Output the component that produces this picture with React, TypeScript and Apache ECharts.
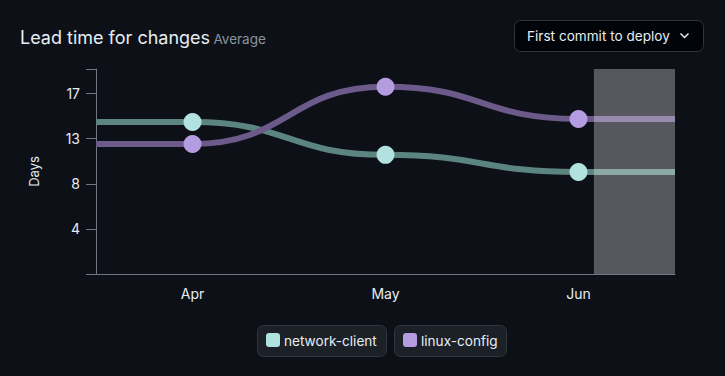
import React, { useEffect, useRef } from "react";
import * as echarts from "echarts";

// Monthly averages, in days
const months = ["Apr", "May", "Jun"];
const networkClient = [14.6, 11.45, 9.8];
const linuxConfig = [12.5, 18.0, 14.9];
const seriesNames = ["network-client", "linux-config"];

// Axis range and the still-open period at the end of the timeline
const yMax = 19.7;
const yInterval = 13 / 3;
const openPeriodStart = 2.08;

const FONT = "Inter, 'Noto Sans', sans-serif";
const BG = "#0d1117";
const TEXT = "#e6edf3";
const MUTED = "#8b949e";
const AXIS = "#6e7681";

const palette = [
  { dot: "#b2e2df", line: "#5c8581" },
  { dot: "#b49ce0", line: "#6b5a8a" },
];

// Horizontal-tangent cubic curve through each point, extended flat to the grid edges
function bumpSeries(name: string, values: number[], color: { dot: string; line: string }) {
  return {
    name,
    type: "custom",
    xAxisIndex: 1,
    z: 2,
    data: values.map((v, i) => [i, v]),
    encode: { x: 0, y: 1 },
    renderItem: (params: any, api: any) => {
      if (params.dataIndex !== 0) return null;
      const cs = params.coordSys;
      const pts = values.map((v, i) => api.coord([i, v]));
      let d = `M${cs.x},${pts[0][1]} L${pts[0][0]},${pts[0][1]}`;
      for (let i = 1; i < pts.length; i++) {
        const [x0, y0] = pts[i - 1];
        const [x1, y1] = pts[i];
        const mx = (x0 + x1) / 2;
        d += ` C${mx},${y0} ${mx},${y1} ${x1},${y1}`;
      }
      const last = pts[pts.length - 1];
      d += ` L${cs.x + cs.width},${last[1]}`;
      return {
        type: "path",
        shape: { pathData: d },
        style: { stroke: color.line, lineWidth: 6, fill: "none" },
      };
    },
  };
}

function dotSeries(name: string, values: number[], color: { dot: string }, withShade: boolean) {
  const s: any = {
    name,
    type: "scatter",
    xAxisIndex: 1,
    z: 3,
    symbolSize: 18,
    itemStyle: { color: color.dot, opacity: 1 },
    data: values.map((v, i) => [i, v]),
  };
  if (withShade) {
    s.markArea = {
      silent: true,
      z: 10,
      itemStyle: { color: "rgba(255,255,255,0.3)" },
      data: [[{ xAxis: openPeriodStart }, { xAxis: months.length - 0.5 }]],
    };
  }
  return s;
}

function legendChip(x: number, width: number, label: string, color: string) {
  return {
    type: "group",
    children: [
      {
        type: "rect",
        shape: { x: x + 0.5, y: 325.5, width, height: 31, r: 6 },
        style: { fill: "#1c2128", stroke: "#30363d", lineWidth: 1 },
      },
      {
        type: "rect",
        shape: { x: x + 9, y: 333, width: 14, height: 14, r: 3 },
        style: { fill: color },
      },
      {
        type: "text",
        x: x + 27,
        y: 341,
        style: {
          text: label,
          fill: TEXT,
          font: `13.6px ${FONT}`,
          textVerticalAlign: "middle",
        },
      },
    ],
  };
}

export default function App() {
  const ref = useRef<HTMLDivElement>(null);

  useEffect(() => {
    if (!ref.current) return;
    const chart = echarts.init(ref.current, null, { renderer: "svg" });
    chart.setOption({
      animation: false,
      backgroundColor: BG,
      textStyle: { fontFamily: FONT },
      grid: { left: 96, right: 50, top: 69, bottom: 102, containLabel: false },
      xAxis: [
        {
          type: "category",
          data: months,
          boundaryGap: true,
          axisLine: { onZero: false, lineStyle: { color: AXIS, width: 1 } },
          axisTick: { alignWithLabel: true, length: 9, lineStyle: { color: AXIS } },
          axisLabel: { color: TEXT, fontSize: 14, margin: 12, fontFamily: FONT },
          splitLine: { show: false },
        },
        {
          type: "value",
          show: false,
          min: -0.5,
          max: months.length - 0.5,
          splitLine: { show: false },
        },
      ],
      yAxis: {
        type: "value",
        min: 0,
        max: yMax,
        interval: yInterval,
        name: "Days",
        nameLocation: "middle",
        nameGap: 56,
        nameRotate: 90,
        nameTextStyle: { color: TEXT, fontSize: 13, fontFamily: FONT },
        axisLine: { show: true, onZero: false, lineStyle: { color: AXIS, width: 1 } },
        axisTick: { show: true, length: 10, lineStyle: { color: AXIS } },
        axisLabel: {
          color: TEXT,
          fontSize: 14,
          margin: 16,
          fontFamily: FONT,
          formatter: (v: number) => (v <= 0 || v > 18 ? "" : String(Math.floor(v + 1e-6))),
        },
        splitLine: { show: false },
      },
      series: [
        bumpSeries(seriesNames[0], networkClient, palette[0]),
        bumpSeries(seriesNames[1], linuxConfig, palette[1]),
        dotSeries(seriesNames[0], networkClient, palette[0], true),
        dotSeries(seriesNames[1], linuxConfig, palette[1], false),
      ],
      graphic: [
        {
          type: "text",
          x: 20,
          y: 37,
          style: {
            text: "{a|Lead time for changes} {b|Average}",
            textVerticalAlign: "middle",
            rich: {
              a: { fontSize: 18, fill: TEXT, fontFamily: FONT, verticalAlign: "bottom" },
              b: { fontSize: 13.5, fill: MUTED, fontFamily: FONT, verticalAlign: "bottom" },
            },
          },
        },
        {
          type: "rect",
          shape: { x: 514.5, y: 20.5, width: 189, height: 31, r: 6 },
          style: { fill: "#010409", stroke: "#30363d", lineWidth: 1 },
        },
        {
          type: "text",
          x: 527,
          y: 36,
          style: {
            text: "First commit to deploy",
            fill: TEXT,
            font: `13.6px ${FONT}`,
            textVerticalAlign: "middle",
          },
        },
        {
          type: "polyline",
          shape: { points: [[680.5, 33.5], [684.5, 37.5], [688.5, 33.5]] },
          style: { stroke: TEXT, lineWidth: 1.5, fill: "none" },
        },
        legendChip(257, 129, seriesNames[0], palette[0].dot),
        legendChip(394, 112, seriesNames[1], palette[1].dot),
      ],
    });
    return () => chart.dispose();
  }, []);

  return (
    <div
      ref={ref}
      style={{ position: "fixed", left: 0, top: 0, width: 725, height: 376, background: BG }}
    />
  );
}
